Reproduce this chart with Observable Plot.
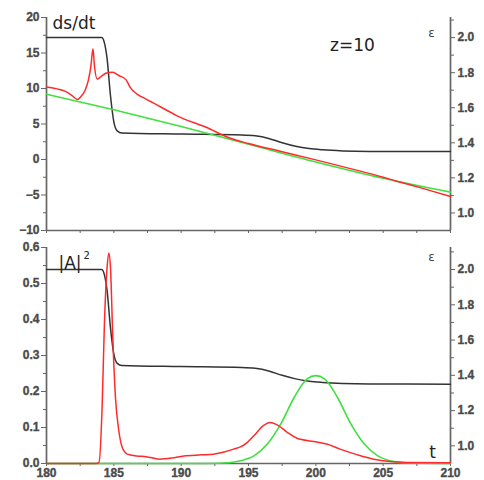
<!DOCTYPE html>
<html><head><meta charset="utf-8">
<script src="https://cdn.jsdelivr.net/npm/d3@7"></script>
<script src="https://cdn.jsdelivr.net/npm/@observablehq/plot@0.6"></script>
<style>
body{margin:0;background:#fff}
#chart svg{display:block}
</style>
</head><body><div id="chart"></div>
<script>
// ---- data ----
// top panel: ds/dt (left axis)
const tDs = [180, 180.8, 181.4, 181.9, 182.3, 182.5, 182.9, 183.1, 183.3, 183.45, 183.56, 183.76, 184.0, 184.4, 184.9, 185.4, 185.9, 186.2, 186.7, 187.35, 188.1, 188.96, 189.7, 191.9, 193.5, 195, 197.5, 200, 202.5, 205, 206, 208, 210];
const dsdt = [10.2, 9.95, 9.6, 9.0, 8.45, 8.75, 9.9, 11.1, 13.2, 15.6, 13.2, 11.35, 11.6, 12.15, 12.3, 11.8, 11.25, 10.2, 9.25, 8.55, 7.8, 6.9, 6.15, 4.5, 3.1, 2.25, 1.1, -0.05, -1.25, -2.5, -3.05, -4.1, -5.2];
// top panel: green straight line (left axis)
const tGreenTop = [180, 185, 190, 195, 200, 205, 210];
const greenTop = [9.2, 7.0, 4.65, 2.15, -0.35, -2.65, -4.6];
// epsilon (right axis), same curve drawn in both panels
const tEps = [180, 184.1, 184.3, 184.5, 184.75, 185.0, 185.25, 185.6, 190, 194.5, 195.5, 196.5, 197.5, 198.5, 199.5, 200.5, 202, 204, 210];
const eps  = [2.0, 2.0, 1.97, 1.88, 1.67, 1.52, 1.468, 1.456, 1.45, 1.445, 1.44, 1.425, 1.40, 1.38, 1.367, 1.36, 1.354, 1.351, 1.35];
// bottom panel: |A|^2 red
const tA = [180, 183.7, 183.9, 184.13, 184.3, 184.5, 184.63, 184.75, 184.93, 185.12, 185.37, 185.62, 186.0, 186.7, 187.4, 188.4, 189.3, 190.2, 191.5, 192.4, 193.2, 193.9, 194.4, 194.9, 195.4, 196.1, 196.6, 197.1, 197.9, 198.6, 199.85, 200.8, 201.8, 203.1, 204.3, 205.5, 206.8, 210];
const A2 = [0, 0, 0.003, 0.156, 0.388, 0.545, 0.585, 0.545, 0.341, 0.184, 0.091, 0.045, 0.026, 0.021, 0.019, 0.012, 0.015, 0.021, 0.024, 0.026, 0.032, 0.04, 0.046, 0.058, 0.077, 0.105, 0.114, 0.108, 0.086, 0.07, 0.061, 0.054, 0.040, 0.024, 0.012, 0.0056, 0.003, 0.002];
// bottom panel: green pulse
const tG = [180, 192, 193.5, 194.4, 195.4, 196.4, 197.4, 198.4, 199.35, 200, 200.65, 201.6, 202.6, 203.6, 204.6, 205.5, 206.5, 210];
const G  = [0, 0, 0.002, 0.0075, 0.021, 0.054, 0.11, 0.184, 0.235, 0.244, 0.235, 0.184, 0.11, 0.054, 0.021, 0.0075, 0.002, 0];

// tick values
const xMajor = [180, 185, 190, 195, 200, 205, 210];
const xMinor = [182.5, 187.5, 192.5, 197.5, 202.5, 207.5];
const dsMajor = [-10, -5, 0, 5, 10, 15, 20];
const dsMinor = [-7.5, -2.5, 2.5, 7.5, 12.5, 17.5];
const aMajor = [0, 0.1, 0.2, 0.3, 0.4, 0.5, 0.6];
const aMinor = [0.05, 0.15, 0.25, 0.35, 0.45, 0.55];
const epsMajor = [1.0, 1.2, 1.4, 1.6, 1.8, 2.0];
const epsMinor = [1.1, 1.3, 1.5, 1.7, 1.9, 2.1];

// labels
const topLabel = "ds/dt", zLabel = "z=10", epsLabel = "ε", botLabel = "|A|", botSup = "2", tLabel = "t";

// ---- drawing ----
const W = 484;
const AX = "#666", TXT = "#4a4a4a";
const RED = "#ff2b2b", GREEN = "#3fe03f", BLACK = "#333";
const TICKFONT = {fontFamily: "Liberation Sans, Arial, sans-serif", fontSize: 12, fontWeight: "bold", fill: TXT};
const BIG = {fontFamily: "DejaVu Sans, sans-serif", fontSize: 17, fill: "#222"};
const noLabel = () => "";

// right-axis mapping onto left scales
const epsTop = e => -10 + (e - 0.9) * 24.7;
const epsTopInv = v => 0.9 + (v + 10) / 24.7;
const epsBot = e => (e - 0.9) * 0.4898;
const epsBotInv = v => 0.9 + v / 0.4898;

const rows = (ts, vs) => ts.map((t, i) => ({t, v: vs[i]}));
const dsRows = rows(tDs, dsdt);
const gTopRows = rows(tGreenTop, greenTop);
const epsTopRows = tEps.map((t, i) => ({t, v: epsTop(eps[i])}));
const epsBotRows = tEps.map((t, i) => ({t, v: epsBot(eps[i])}));
const aRows = rows(tA, A2);
const gRows = rows(tG, G);

function frameLines(yMin) {
  return [
    Plot.ruleX([180, 210], {stroke: AX, strokeWidth: 1.7}),
    Plot.ruleY([yMin], {stroke: AX, strokeWidth: 1.7})
  ];
}
function minorY(vals, anchor) {
  return Plot.axisY(vals, {anchor, label: null, tickSize: 3, stroke: AX, tickFormat: noLabel});
}
function minorX(vals) {
  return Plot.axisX(vals, {anchor: "bottom", label: null, tickSize: 3, stroke: AX, tickFormat: noLabel});
}

const topPlot = Plot.plot({
  width: W, height: 240,
  marginLeft: 46, marginRight: 34, marginTop: 17, marginBottom: 10,
  style: {background: "white", overflow: "visible"},
  x: {domain: [180, 210]},
  y: {domain: [-10, 20]},
  marks: [
    Plot.axisY(dsMajor, {anchor: "left", label: null, tickSize: 5, tickPadding: 2, stroke: AX, ...TICKFONT}),
    minorY(dsMinor, "left"),
    Plot.axisY(epsMajor.map(epsTop), {anchor: "right", label: null, tickSize: 4, tickPadding: 3, stroke: AX, tickFormat: d => epsTopInv(d).toFixed(1), ...TICKFONT}),
    minorY(epsMinor.map(epsTop), "right"),
    minorX(xMajor.concat(xMinor)),
    ...frameLines(-10),
    Plot.line(epsTopRows, {x: "t", y: "v", stroke: BLACK, strokeWidth: 1.5, curve: "monotone-x"}),
    Plot.line(gTopRows, {x: "t", y: "v", stroke: GREEN, strokeWidth: 1.6, curve: "monotone-x"}),
    Plot.line(dsRows, {x: "t", y: "v", stroke: RED, strokeWidth: 1.5, curve: "monotone-x"}),
    Plot.text([topLabel], {frameAnchor: "top-left", dx: 6, dy: 6, lineAnchor: "middle", textAnchor: "start", ...BIG}),
    Plot.text([zLabel], {frameAnchor: "top", dx: 104, dy: 28, lineAnchor: "middle", textAnchor: "middle", ...BIG}),
    Plot.text([epsLabel], {frameAnchor: "top-right", dx: -19, dy: 16, lineAnchor: "middle", textAnchor: "middle", fontFamily: "DejaVu Sans, sans-serif", fontSize: 12, fill: "#444"})
  ]
});

const botPlot = Plot.plot({
  width: W, height: 240,
  marginLeft: 46, marginRight: 34, marginTop: 7, marginBottom: 17,
  style: {background: "white", overflow: "visible"},
  x: {domain: [180, 210]},
  y: {domain: [0, 0.6]},
  marks: [
    Plot.axisY(aMajor, {anchor: "left", label: null, tickSize: 5, tickPadding: 2, stroke: AX, tickFormat: d => d.toFixed(1), ...TICKFONT}),
    minorY(aMinor, "left"),
    Plot.axisY(epsMajor.map(epsBot), {anchor: "right", label: null, tickSize: 4, tickPadding: 3, stroke: AX, tickFormat: d => epsBotInv(d).toFixed(1), ...TICKFONT}),
    minorY(epsMinor.map(epsBot), "right"),
    Plot.axisX(xMajor, {anchor: "bottom", label: null, tickSize: 3, tickPadding: 2, stroke: AX, tickFormat: d => String(d), ...TICKFONT}),
    minorX(xMinor),
    ...frameLines(0),
    Plot.line(epsBotRows, {x: "t", y: "v", stroke: BLACK, strokeWidth: 1.5, curve: "monotone-x"}),
    Plot.line(gRows, {x: "t", y: "v", stroke: GREEN, strokeWidth: 1.6, curve: "monotone-x"}),
    Plot.line(aRows, {x: "t", y: "v", stroke: RED, strokeWidth: 1.5, curve: "monotone-x"}),
    Plot.text([botLabel], {frameAnchor: "top-left", dx: 12, dy: 16, lineAnchor: "middle", textAnchor: "start", ...BIG}),
    Plot.text([botSup], {frameAnchor: "top-left", dx: 37, dy: 8, lineAnchor: "middle", textAnchor: "start", fontFamily: "DejaVu Sans, sans-serif", fontSize: 10, fill: "#222"}),
    Plot.text([epsLabel], {frameAnchor: "top-right", dx: -19, dy: 10, lineAnchor: "middle", textAnchor: "middle", fontFamily: "DejaVu Sans, sans-serif", fontSize: 12, fill: "#444"}),
    Plot.text([tLabel], {frameAnchor: "bottom-right", dx: -18, dy: -11, lineAnchor: "middle", textAnchor: "middle", ...BIG})
  ]
});

const root = document.getElementById("chart");
root.appendChild(topPlot);
root.appendChild(botPlot);
// embolden the tick labels like the reference
const ownLabels = new Set([topLabel, zLabel, epsLabel, botLabel, botSup, tLabel]);
root.querySelectorAll("text").forEach(t => {
  if (ownLabels.has(t.textContent)) return;
  t.setAttribute("font-weight", "bold");
  t.setAttribute("font-family", "Liberation Sans, Arial, sans-serif");
  t.setAttribute("stroke", TXT);
  t.setAttribute("stroke-width", "0.35");
  t.setAttribute("fill", TXT);
  t.style.fontWeight = "700";
});
</script>
</body></html>
